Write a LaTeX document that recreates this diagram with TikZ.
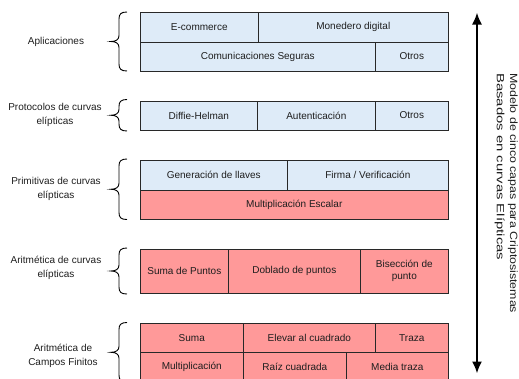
\documentclass[tikz,border=0pt]{standalone}
\usepackage{fontspec}
\usepackage{graphicx}
\usepackage{tikz}
\setmainfont{Liberation Sans}
\usetikzlibrary{arrows.meta}
\usetikzlibrary{positioning}
\definecolor{cellblue}{RGB}{222, 235, 248}
\definecolor{cellpink}{RGB}{255, 153, 153}
\definecolor{cellline}{RGB}{40, 40, 40}
\definecolor{inktext}{RGB}{30, 30, 30}
\tikzset{cell/.style = {draw=cellline, line width=0.6pt, anchor=north west,
                        inner sep=0, align=center, text=inktext,
                        font={\fontsize{10}{12.3}\selectfont}}}
\tikzset{bluecell/.style = {cell, fill=cellblue}}
\tikzset{pinkcell/.style = {cell, fill=cellpink}}
\tikzset{layername/.style = {align=center, inner sep=0, text=inktext,
                             font={\fontsize{10}{14}\selectfont}}}
\tikzset{layerbrace/.style = {draw=black, line width=0.9pt}}
\tikzset{axis/.style = {line width=2pt, >={Latex[length=12pt, width=10pt]}, <->}}

\begin{document}
\begin{tikzpicture}[x=1pt, y=-1pt]
      \useasboundingbox (0, 0) rectangle (519, 378);

      % aplicaciones
      \node [bluecell, minimum width=118pt, minimum height=29.5pt] (ecom) at (140, 12) {E-commerce};
      \node [bluecell, minimum width=190pt, minimum height=29.5pt] (monedero) at (258, 12) {Monedero digital};
      \node [bluecell, minimum width=235pt, minimum height=29.5pt] (comseg) at (140, 41.5) {Comunicaciones Seguras};
      \node [bluecell, minimum width=73pt, minimum height=29.5pt] (otrosapl) at (375, 41.5) {Otros};

      % protocolos
      \node [bluecell, minimum width=117pt, minimum height=29.5pt] (diffie) at (140, 100.5) {Diffie-Helman};
      \node [bluecell, minimum width=118pt, minimum height=29.5pt] (autent) at (257, 100.5) {Autenticación};
      \node [bluecell, minimum width=73pt, minimum height=29.5pt] (otrosprot) at (375, 100.5) {Otros};

      % primitivas
      \node [bluecell, minimum width=147pt, minimum height=29.5pt] (genllaves) at (140, 160) {Generación de llaves};
      \node [bluecell, minimum width=161pt, minimum height=29.5pt] (firma) at (287, 160) {Firma / Verificación};
      \node [pinkcell, minimum width=308pt, minimum height=29.5pt] (multesc) at (140, 189.5) {Multiplicación Escalar};

      % aritmetica de curvas
      \node [pinkcell, minimum width=88pt, minimum height=43.5pt] (sumapts) at (140, 249) {Suma de Puntos};
      \node [pinkcell, minimum width=132pt, minimum height=43.5pt] (doblado) at (228, 249) {Doblado de puntos};
      \node [pinkcell, minimum width=88pt, minimum height=43.5pt] (biseccion) at (360, 249) {Bisección de\\punto};

      % campos finitos
      \node [pinkcell, minimum width=103pt, minimum height=29.3pt] (suma) at (140, 323) {Suma};
      \node [pinkcell, minimum width=132pt, minimum height=29.3pt] (elevar) at (243, 323) {Elevar al cuadrado};
      \node [pinkcell, minimum width=73pt, minimum height=29.3pt] (traza) at (375, 323) {Traza};
      \node [pinkcell, minimum width=103pt, minimum height=29.3pt] (mult) at (140, 352.3) {Multiplicación};
      \node [pinkcell, minimum width=103pt, minimum height=29.3pt] (raiz) at (243, 352.3) {Raíz cuadrada};
      \node [pinkcell, minimum width=102pt, minimum height=29.3pt] (mediatraza) at (346, 352.3) {Media traza};

      \foreach \t/\m/\b in {12/41.5/71, 99.5/115.25/131, 159/189.25/219.5,
                            248/271/294, 322.5/352.3/382}{
        \draw [layerbrace] (127, \t) .. controls (121, \t) and (119, \t+2) .. (119, \t+7)
          -- (119, \m-6) .. controls (119, \m-2) and (116, \m) .. (111, \m)
          .. controls (116, \m) and (119, \m+2) .. (119, \m+6)
          -- (119, \b-7) .. controls (119, \b-2) and (121, \b) .. (127, \b);
      }

      \node [layername] (lblapl) at (56, 42) {Aplicaciones};
      \node [layername] (lblprot) at (55, 115) {Protocolos de curvas\\elípticas};
      \node [layername] (lblprim) at (56, 189) {Primitivas de curvas\\elípticas};
      \node [layername] (lblcurv) at (56, 268) {Aritmética de curvas\\elípticas};
      \node [layername] (lblcampos) at (63, 356) {Aritmética de\\Campos Finitos};

      \coordinate (uptip) at (477, 12.5);
      \coordinate (downtip) at (477, 373.5);
      \draw [axis] (downtip) -- (uptip);

      \node [rotate=-90, anchor=north west, align=left, inner sep=0, text=inktext,
             font={\fontsize{10.5}{13.2}\selectfont}] (modelo) at (518, 73)
        {\resizebox{240pt}{\height}{Modelo de cinco capas para Criptosistemas}\\
         \resizebox{187pt}{\height}{Basados en curvas Elípticas}};
    \end{tikzpicture}
\end{document}
